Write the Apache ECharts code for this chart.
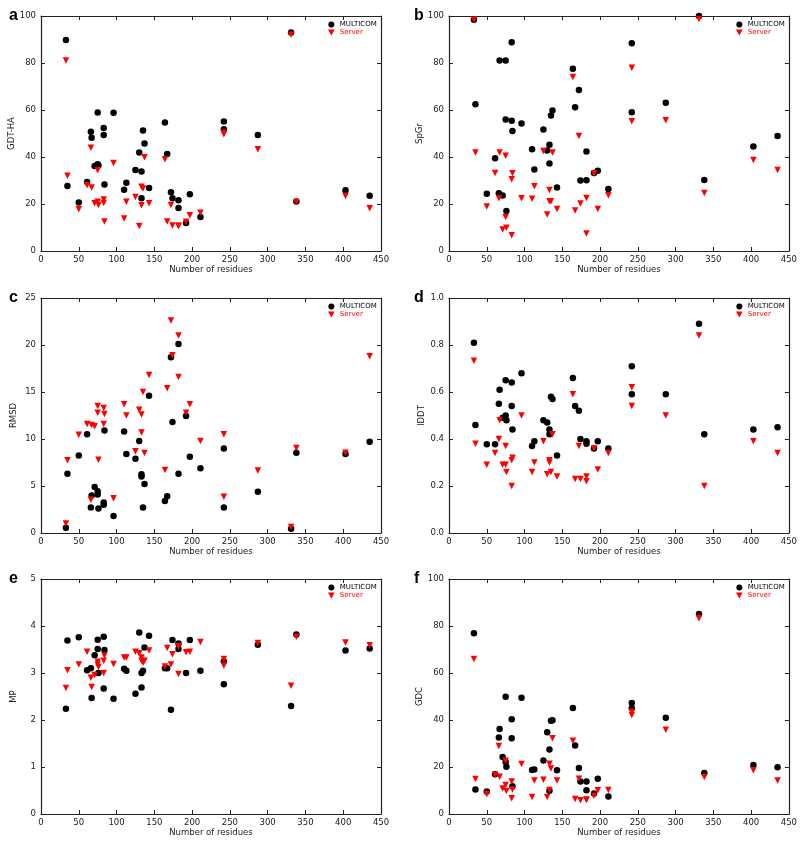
<!DOCTYPE html>
<html>
<head>
<meta charset="utf-8">
<script src="https://cdn.jsdelivr.net/npm/echarts@6/dist/echarts.min.js"></script>
<style>
html,body{margin:0;padding:0;background:#fff;}
#chart{width:800px;height:843px;}
</style>
</head>
<body>
<div id="chart"></div>
<script>
// Number of residues for each target (shared x values)
const residues = [33, 35, 50, 61, 66, 67, 71, 75, 75, 76, 83, 83, 84, 96, 110, 113, 125, 130, 133, 133, 135, 137, 143, 164, 167, 172, 174, 182, 182, 192, 197, 211, 242, 242, 287, 331, 338, 403, 435];

const gdtMulticom = [89.8, 27.7, 20.6, 29.4, 50.7, 48.2, 36.2, 58.9, 36.9, 36.4, 52.3, 49.4, 28.3, 58.8, 26.1, 29.0, 34.5, 41.9, 33.8, 22.4, 51.3, 45.7, 26.8, 54.7, 41.3, 25.0, 22.4, 21.6, 18.3, 11.9, 24.1, 14.5, 55.1, 51.8, 49.4, 93.0, 21.1, 25.8, 23.5];
const gdtServer = [81.1, 32.0, 17.8, 28.0, 43.9, 27.0, 20.3, 34.4, 21.0, 19.6, 21.9, 20.4, 12.6, 37.5, 13.8, 21.0, 23.0, 10.6, 19.5, 27.3, 26.6, 39.9, 20.3, 39.0, 12.6, 19.6, 10.9, 10.9, 10.5, 12.5, 15.2, 16.3, 50.3, 49.7, 43.3, 92.0, 20.9, 23.4, 18.2];

const spgrMulticom = [98.4, 62.5, 24.4, 39.5, 24.6, 81.1, 23.6, 81.1, 56.0, 17.0, 88.8, 55.4, 51.1, 54.3, 43.3, 34.7, 51.7, 42.8, 37.2, 45.2, 57.7, 59.8, 27.0, 77.6, 61.2, 68.5, 30.0, 42.3, 30.1, 33.2, 34.2, 26.4, 88.4, 59.0, 63.1, 100, 30.2, 44.5, 48.9];
const spgrServer = [98.4, 41.9, 18.9, 33.2, 22.5, 41.9, 9.1, 40.5, 14.5, 9.9, 30.5, 6.7, 33.1, 22.4, 22.2, 27.6, 42.6, 15.5, 26.0, 21.2, 21.2, 41.9, 17.9, 74.0, 17.2, 48.9, 20.2, 22.6, 7.5, 33.0, 17.9, 23.7, 78.0, 55.2, 55.6, 98.7, 24.7, 38.7, 34.5];

const rmsdMulticom = [0.57, 6.3, 8.25, 10.5, 2.7, 4.0, 4.9, 4.45, 4.1, 2.6, 3.25, 3.0, 10.9, 1.8, 10.8, 8.4, 7.9, 9.8, 6.26, 6.0, 2.7, 5.2, 14.6, 3.4, 3.9, 18.7, 11.8, 20.1, 6.3, 12.45, 8.1, 6.9, 9.0, 2.7, 4.4, 0.46, 8.55, 8.4, 9.7];
const rmsdServer = [1.0, 7.75, 10.45, 11.6, 3.55, 11.5, 11.35, 13.5, 12.8, 7.8, 13.3, 11.6, 12.65, 3.7, 13.7, 12.5, 8.7, 13.1, 12.6, 10.7, 15.0, 8.5, 16.8, 6.7, 15.4, 22.6, 18.9, 21.0, 16.6, 12.8, 13.7, 9.8, 10.5, 3.85, 6.66, 0.64, 9.05, 8.55, 18.8];

const lddtMulticom = [0.81, 0.46, 0.378, 0.378, 0.55, 0.61, 0.49, 0.65, 0.50, 0.48, 0.64, 0.54, 0.44, 0.68, 0.37, 0.39, 0.48, 0.47, 0.44, 0.42, 0.58, 0.57, 0.33, 0.66, 0.54, 0.52, 0.40, 0.39, 0.38, 0.36, 0.39, 0.36, 0.71, 0.59, 0.59, 0.89, 0.42, 0.44, 0.45];
const lddtServer = [0.733, 0.38, 0.29, 0.34, 0.40, 0.48, 0.29, 0.37, 0.29, 0.26, 0.31, 0.20, 0.32, 0.50, 0.26, 0.30, 0.39, 0.25, 0.31, 0.30, 0.26, 0.42, 0.24, 0.59, 0.23, 0.37, 0.23, 0.24, 0.22, 0.36, 0.27, 0.34, 0.62, 0.54, 0.50, 0.84, 0.20, 0.39, 0.34];

const mpMulticom = [2.24, 3.69, 3.76, 3.06, 3.10, 2.47, 3.38, 3.71, 3.51, 3.00, 3.77, 2.67, 3.49, 2.45, 3.09, 3.05, 2.56, 3.86, 3.00, 2.69, 3.05, 3.54, 3.79, 3.10, 3.10, 2.22, 3.70, 3.63, 3.51, 3.00, 3.70, 3.05, 3.25, 2.76, 3.60, 2.30, 3.82, 3.48, 3.52];
const mpServer = [2.68, 3.06, 3.18, 3.45, 2.90, 2.70, 2.96, 3.24, 3.18, 3.13, 3.26, 3.00, 3.37, 3.19, 3.33, 3.33, 3.45, 3.42, 3.33, 3.26, 3.22, 3.26, 3.48, 3.14, 3.53, 3.18, 3.40, 3.57, 2.98, 3.44, 3.45, 3.66, 3.30, 3.16, 3.64, 2.73, 3.77, 3.65, 3.59];

const gdcMulticom = [76.9, 10.4, 9.6, 16.9, 32.6, 36.2, 24.3, 49.9, 22.1, 20.1, 40.3, 32.2, 11.8, 49.5, 18.7, 18.9, 22.8, 34.8, 27.4, 9.9, 39.7, 39.9, 18.6, 45.1, 29.1, 19.6, 13.8, 13.8, 10.1, 8.7, 15.0, 7.5, 47.2, 45.0, 41.0, 85.1, 17.4, 20.9, 19.9];
const gdcServer = [66.0, 14.9, 8.4, 16.6, 28.9, 15.9, 10.8, 22.7, 12.3, 9.8, 13.8, 6.7, 10.4, 21.3, 7.2, 14.3, 14.6, 7.2, 21.4, 10.2, 19.4, 32.2, 14.3, 31.2, 6.4, 15.0, 5.8, 6.0, 6.2, 7.8, 10.1, 10.2, 43.5, 42.1, 35.9, 83.3, 15.7, 18.6, 14.3];

const xTicks = {min: 0, max: 450, interval: 50};
const xName = 'Number of residues';
const seriesNames = ['MULTICOM', 'Server'];

const panels = [
  {letter: 'a', yName: 'GDT-HA', min: 0, max: 100, interval: 20, m: gdtMulticom, s: gdtServer, dec: 0},
  {letter: 'b', yName: 'SpGr', min: 0, max: 100, interval: 20, m: spgrMulticom, s: spgrServer, dec: 0},
  {letter: 'c', yName: 'RMSD', min: 0, max: 25, interval: 5, m: rmsdMulticom, s: rmsdServer, dec: 0},
  {letter: 'd', yName: 'lDDT', min: 0, max: 1, interval: 0.2, m: lddtMulticom, s: lddtServer, dec: 1},
  {letter: 'e', yName: 'MP', min: 0, max: 5, interval: 1, m: mpMulticom, s: mpServer, dec: 0},
  {letter: 'f', yName: 'GDC', min: 0, max: 100, interval: 20, m: gdcMulticom, s: gdcServer, dec: 0}
];

const lefts = [41, 449];
const tops = [16, 298, 579];
const W = 340, H = 235;
const font = 'DejaVu Sans';
const lineStyle = {color: '#222', width: 1.2};
const downTri = 'path://M0,0 L10,0 L5,9 Z';

const grid = [], xAxis = [], yAxis = [], series = [], legend = [], title = [];

panels.forEach((p, i) => {
  const col = i % 2, row = Math.floor(i / 2);
  const L = lefts[col], T = tops[row];
  grid.push({left: L, top: T, width: W, height: H, containLabel: false});
  const tick = {show: true, inside: true, length: 4, lineStyle: {color: '#222', width: 1}};
  xAxis.push({
    type: 'value', gridIndex: i, position: 'bottom', min: xTicks.min, max: xTicks.max, interval: xTicks.interval,
    axisLine: {show: true, onZero: false, lineStyle}, axisTick: tick, splitLine: {show: false},
    axisLabel: {fontFamily: font, fontSize: 8.5, color: '#222', margin: 4},
    name: xName, nameLocation: 'middle', nameGap: 14,
    nameTextStyle: {fontFamily: font, fontSize: 8.5, color: '#222'}
  });
  xAxis.push({
    type: 'value', gridIndex: i, position: 'top', min: xTicks.min, max: xTicks.max, interval: xTicks.interval,
    axisLine: {show: true, onZero: false, lineStyle}, axisTick: tick, splitLine: {show: false},
    axisLabel: {show: false}
  });
  const fmt = v => v.toFixed(p.dec);
  yAxis.push({
    type: 'value', gridIndex: i, position: 'left', min: p.min, max: p.max, interval: p.interval,
    axisLine: {show: true, onZero: false, lineStyle}, axisTick: tick, splitLine: {show: false},
    axisLabel: {fontFamily: font, fontSize: 8.5, color: '#222', margin: 5, formatter: fmt},
    name: p.yName, nameLocation: 'middle', nameGap: 23, nameRotate: 90,
    nameTextStyle: {fontFamily: font, fontSize: 8.5, color: '#222'}
  });
  yAxis.push({
    type: 'value', gridIndex: i, position: 'right', min: p.min, max: p.max, interval: p.interval,
    axisLine: {show: true, onZero: false, lineStyle}, axisTick: tick, splitLine: {show: false},
    axisLabel: {show: false}
  });
  series.push({
    type: 'scatter', name: seriesNames[0], xAxisIndex: 2 * i, yAxisIndex: 2 * i,
    symbol: 'circle', symbolSize: 6.5, itemStyle: {color: '#000', opacity: 1}, silent: true,
    data: residues.map((r, k) => [r, p.m[k]])
  });
  series.push({
    type: 'scatter', name: seriesNames[1], xAxisIndex: 2 * i, yAxisIndex: 2 * i,
    symbol: 'triangle', symbolRotate: 180, symbolSize: 6.5, itemStyle: {color: '#ff0000', opacity: 1}, silent: true,
    data: residues.map((r, k) => [r, p.s[k]])
  });
  legend.push({
    left: L + W - 53, top: T + 5, orient: 'vertical', padding: 0, itemGap: 1,
    itemWidth: 7, itemHeight: 6, selectedMode: false,
    textStyle: {fontFamily: font, fontSize: 7},
    data: [
      {name: seriesNames[0], icon: 'circle', itemStyle: {color: '#000', opacity: 1}, textStyle: {color: '#000'}},
      {name: seriesNames[1], icon: downTri, itemStyle: {color: '#ff0000', opacity: 1}, textStyle: {color: '#ff0000'}}
    ]
  });
  title.push({
    text: p.letter, left: col === 0 ? 4 : 409, top: T - 13,
    textStyle: {fontFamily: 'Liberation Sans', fontSize: 16, fontWeight: 'bold', color: '#000'}
  });
});

const chart = echarts.init(document.getElementById('chart'), null, {renderer: 'canvas'});
chart.setOption({
  animation: false,
  backgroundColor: '#fff',
  textStyle: {fontFamily: font},
  title, grid, xAxis, yAxis, series, legend
});
</script>
</body>
</html>
